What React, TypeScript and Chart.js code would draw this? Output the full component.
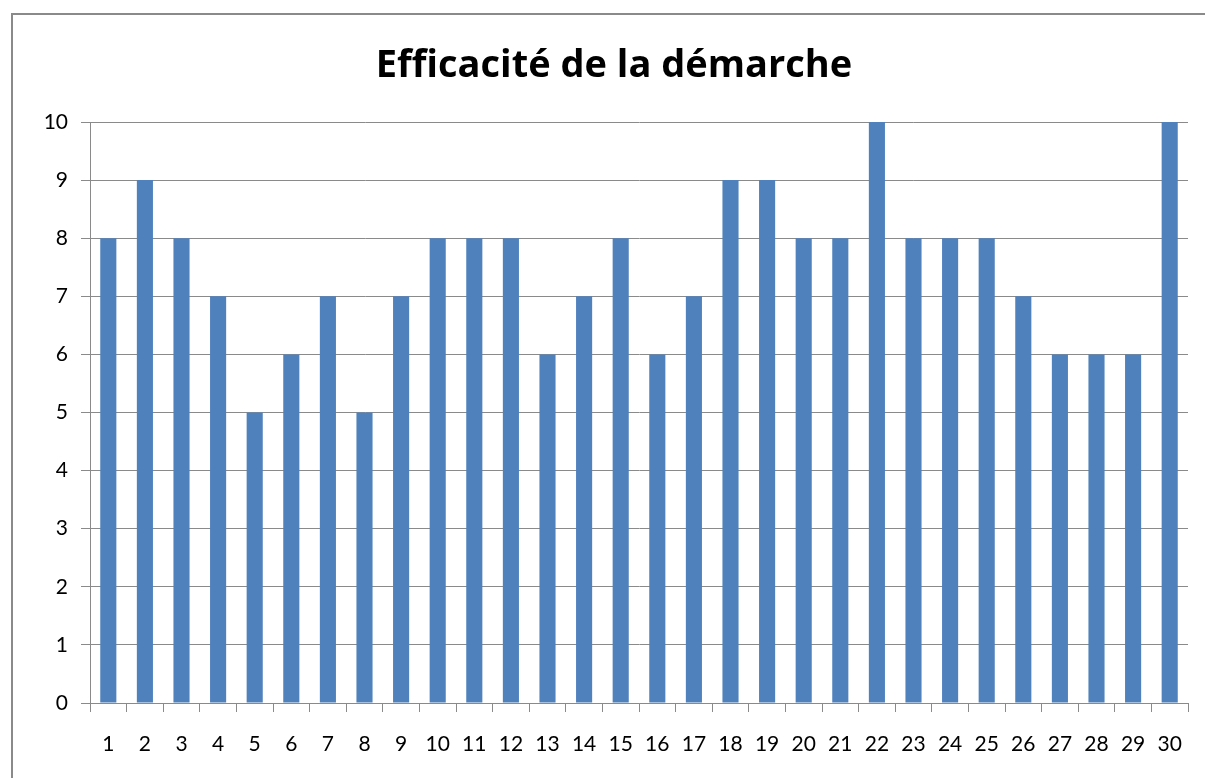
import React, { useEffect, useRef } from "react";
import { Chart, registerables } from "chart.js";

Chart.register(...registerables);

const TITLE = "Efficacité de la démarche";
const categories = Array.from({ length: 30 }, (_, i) => String(i + 1));
const values = [8, 9, 8, 7, 5, 6, 7, 5, 7, 8, 8, 8, 6, 7, 8, 6, 7, 9, 9, 8, 8, 10, 8, 8, 8, 7, 6, 6, 6, 10];
const yTicks = [0, 1, 2, 3, 4, 5, 6, 7, 8, 9, 10];

const FONT = "Lato, 'Open Sans', sans-serif";
const TITLE_FONT = "'Open Sans', Lato, sans-serif";

const framePlugin = {
  id: "frame",
  beforeDraw(chart: any) {
    const { ctx } = chart;
    ctx.save();
    ctx.fillStyle = "#ffffff";
    ctx.fillRect(0, 0, chart.width, chart.height);
    ctx.strokeStyle = "#8a8a8a";
    ctx.lineWidth = 2;
    ctx.beginPath();
    ctx.moveTo(12, chart.height);
    ctx.lineTo(12, 14);
    ctx.lineTo(chart.width, 14);
    ctx.stroke();
    ctx.restore();
  },
  afterDraw(chart: any) {
    const { ctx } = chart;
    ctx.save();
    ctx.fillStyle = "#000";
    ctx.font = `bold 38px ${TITLE_FONT}`;
    ctx.textAlign = "center";
    ctx.textBaseline = "alphabetic";
    ctx.fillText(TITLE, 614, 77);
    ctx.restore();
  },
};

export default function App() {
  const ref = useRef<HTMLCanvasElement>(null);
  useEffect(() => {
    if (!ref.current) return;
    const chart = new Chart(ref.current, {
      type: "bar",
      data: {
        labels: categories,
        datasets: [
          {
            data: values,
            backgroundColor: "#4F81BD",
            barPercentage: 0.44,
            categoryPercentage: 1,
          },
        ],
      },
      options: {
        animation: false,
        responsive: false,
        devicePixelRatio: 1,
        layout: { padding: { top: 122, right: 17, left: 0, bottom: 0 } },
        plugins: { legend: { display: false }, title: { display: false }, tooltip: { enabled: false } },
        scales: {
          x: {
            afterFit: (s: any) => {
              s.height = 75;
            },
            grid: {
              offset: true,
              drawOnChartArea: false,
              drawTicks: true,
              tickLength: 9,
              color: "#8a8a8a",
            },
            border: { display: true, color: "#8a8a8a", width: 1 },
            ticks: { color: "#000", font: { family: FONT, size: 21 }, padding: 20, maxRotation: 0, autoSkip: false },
          },
          y: {
            min: 0,
            max: 10,
            afterFit: (s: any) => {
              s.width = 90;
            },
            afterBuildTicks: (s: any) => {
              s.ticks = yTicks.map((v) => ({ value: v }));
            },
            grid: { color: "#8a8a8a", tickLength: 9, drawTicks: true },
            border: { display: true, color: "#8a8a8a", width: 1 },
            ticks: { color: "#000", font: { family: FONT, size: 21 }, padding: 13 },
          },
        },
      },
      plugins: [framePlugin],
    });
    return () => chart.destroy();
  }, []);
  return (
    <div style={{ position: "absolute", left: 0, top: 0, width: 1205, height: 778, background: "#fff" }}>
      <canvas ref={ref} width={1205} height={778} style={{ display: "block" }} />
    </div>
  );
}
